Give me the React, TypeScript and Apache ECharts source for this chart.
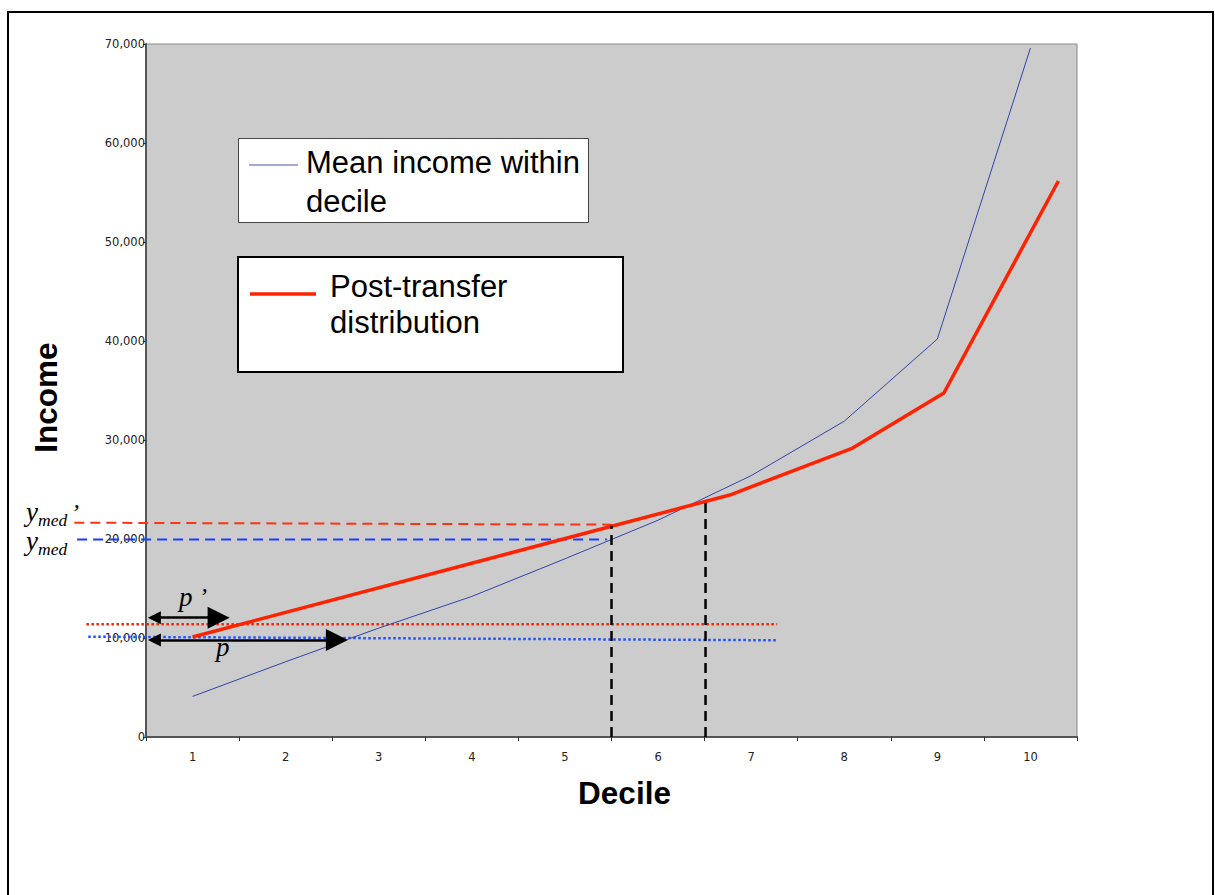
import React, { useEffect, useRef } from "react";
import * as echarts from "echarts";

// Categories (deciles)
const deciles = ["1", "2", "3", "4", "5", "6", "7", "8", "9", "10"];
// Mean income within decile (blue line), at decile centres
const meanIncome = [4100, 7600, 11000, 14200, 18000, 21900, 26400, 31900, 40200, 69600];
// Post-transfer distribution (red line): x positions (decile scale) and values
const postX = [1.0, 6.77, 8.09, 9.07, 10.3];
const postIncome = [10100, 24440, 29190, 34750, 56160];
// Reference lines (x on decile scale, y income)
const yMedPrime = [21650, 21450]; // red dashed (left, right)
const yMedPrimeX = [-0.27, 5.5];
const yMed = [19950, 19950]; // blue dashed
const yMedX = [-0.24, 5.45];
const povPrime = [11400, 11400]; // red dotted
const povPrimeX = [-0.14, 7.28];
const pov = [10130, 9770]; // blue dotted
const povX = [-0.12, 7.28];
// Vertical dashed guides: x position and top value
const guideX = [5.5, 6.51];
const guideTop = [21350, 23700];
// Arrows p' and p (centres of arrow heads): [from x, to x, y]
const arrowPPrime = [0.59, 1.28, 12050];
const arrowP = [0.59, 2.55, 9800];
// Y ticks
const yMin = 0;
const yMax = 70000;
const yStep = 10000;

export default function App() {
  const ref = useRef<HTMLDivElement>(null);

  useEffect(() => {
    document.body.style.margin = "0";
    if (!ref.current) return;
    const chart = echarts.init(ref.current, null, { renderer: "svg" });

    const pair = (xs: number[], ys: number[]) => xs.map((x, i) => [x, ys[i]]);
    const sans = "Liberation Sans, Arial, sans-serif";
    const serif = "Liberation Serif, Times New Roman, serif";
    const tickFont = "DejaVu Sans, Verdana, sans-serif";

    const option: any = {
      animation: false,
      backgroundColor: "#ffffff",
      grid: {
        left: 146,
        top: 44,
        right: 138,
        bottom: 158,
        show: true,
        backgroundColor: "#cccccc",
        borderColor: "#888888",
        borderWidth: 1,
      },
      xAxis: [
        {
          type: "category",
          data: deciles,
          boundaryGap: true,
          name: "Decile",
          nameLocation: "middle",
          nameGap: 40,
          nameTextStyle: {
            fontFamily: sans,
            fontSize: 31.5,
            fontWeight: "bold",
            color: "#000",
            padding: [0, 0, 0, 26],
          },
          axisLine: { lineStyle: { color: "#555555", width: 2 } },
          axisTick: { show: true, length: 4, lineStyle: { color: "#333" } },
          axisLabel: { fontFamily: tickFont, fontSize: 11.5, color: "#222", margin: 14 },
          splitLine: { show: false },
        },
        {
          type: "value",
          min: 0.5,
          max: 10.5,
          show: false,
          splitLine: { show: false },
        },
      ],
      yAxis: {
        type: "value",
        min: yMin,
        max: yMax,
        interval: yStep,
        name: "Income",
        nameLocation: "middle",
        nameGap: 84,
        nameTextStyle: {
          fontFamily: sans,
          fontSize: 31.5,
          fontWeight: "bold",
          color: "#000",
          padding: [0, 14, 0, 0],
        },
        axisLine: { show: true, lineStyle: { color: "#555555", width: 2 } },
        axisTick: { show: true, length: 3, lineStyle: { color: "#333" } },
        axisLabel: {
          fontFamily: tickFont,
          fontSize: 11.5,
          color: "#222",
          margin: 1,
          formatter: (v: number) => v.toLocaleString("en-US"),
        },
        splitLine: { show: false },
      },
      series: [
        {
          type: "line",
          name: "Mean income within decile",
          xAxisIndex: 1,
          data: meanIncome.map((v, i) => [i + 1, v]),
          symbol: "none",
          lineStyle: { color: "#3344aa", width: 1 },
          z: 3,
        },
        {
          type: "line",
          name: "Post-transfer distribution",
          xAxisIndex: 1,
          data: pair(postX, postIncome),
          symbol: "none",
          lineStyle: { color: "#ff2200", width: 3.5 },
          z: 4,
        },
        ...guideX.map((gx, i) => ({
          type: "line",
          xAxisIndex: 1,
          data: [
            [gx, 0],
            [gx, guideTop[i]],
          ],
          symbol: "none",
          lineStyle: { color: "#000000", width: 2.5, type: [10, 6] },
          z: 5,
        })),
        {
          type: "lines",
          coordinateSystem: "cartesian2d",
          xAxisIndex: 1,
          symbol: ["triangle", "triangle"],
          symbolSize: [13, 22],
          lineStyle: { color: "#000000", width: 2.5, opacity: 1, curveness: 0 },
          itemStyle: { color: "#000" },
          data: [
            { coords: [[arrowPPrime[0], arrowPPrime[2]], [arrowPPrime[1], arrowPPrime[2]]] },
            { coords: [[arrowP[0], arrowP[2]], [arrowP[1], arrowP[2]]] },
          ],
          z: 6,
        },
      ],
    };

    chart.setOption(option);

    const toPx = (x: number, y: number) =>
      chart.convertToPixel({ xAxisIndex: 1, yAxisIndex: 0 } as any, [x, y]) as number[];
    const refLine = (xs: number[], ys: number[], color: string, width: number, dash: number[]) => {
      const a = toPx(xs[0], ys[0]);
      const b = toPx(xs[1], ys[1]);
      return {
        type: "line",
        silent: true,
        shape: { x1: a[0], y1: a[1], x2: b[0], y2: b[1] },
        style: { stroke: color, lineWidth: width, lineDash: dash },
        z: 1,
      };
    };

    const graphic: any[] = [
      {
        type: "rect",
        silent: true,
        shape: { x: 8, y: 12, width: 1205, height: 900 },
        style: { fill: "none", stroke: "#000", lineWidth: 2 },
        z: 100,
      },
      refLine(yMedPrimeX, yMedPrime, "#ff3311", 2, [10, 6]),
      refLine(yMedX, yMed, "#1a3cff", 2, [10, 6]),
      refLine(povPrimeX, povPrime, "#ff2200", 2.5, [2.5, 2.5]),
      refLine(povX, pov, "#1f4fff", 2.5, [2.5, 2.5]),
      // legend box 1
      {
        type: "rect",
        shape: { x: 238.5, y: 138.5, width: 350, height: 84 },
        style: { fill: "#ffffff", stroke: "#444444", lineWidth: 1 },
        z: 50,
      },
      {
        type: "line",
        shape: { x1: 249, y1: 165, x2: 298, y2: 165 },
        style: { stroke: "#4455aa", lineWidth: 1 },
        z: 51,
      },
      {
        type: "text",
        x: 306,
        y: 143,
        style: {
          text: "Mean income within\ndecile",
          fontFamily: sans,
          fontSize: 31,
          lineHeight: 39,
          fill: "#000",
          verticalAlign: "top",
        },
        z: 51,
      },
      // legend box 2
      {
        type: "rect",
        shape: { x: 238, y: 257, width: 385, height: 115 },
        style: { fill: "#ffffff", stroke: "#000000", lineWidth: 2 },
        z: 50,
      },
      {
        type: "line",
        shape: { x1: 250, y1: 294, x2: 316, y2: 294 },
        style: { stroke: "#ff2200", lineWidth: 3.5 },
        z: 51,
      },
      {
        type: "text",
        x: 330,
        y: 268,
        style: {
          text: "Post-transfer\ndistribution",
          fontFamily: sans,
          fontSize: 31,
          lineHeight: 36,
          fill: "#000",
          verticalAlign: "top",
        },
        z: 51,
      },
      // y_med' label
      {
        type: "text",
        x: 26,
        y: 512,
        style: { text: "y", fontFamily: serif, fontStyle: "italic", fontSize: 27, fill: "#000", verticalAlign: "middle" },
        z: 60,
      },
      {
        type: "text",
        x: 38,
        y: 520,
        style: { text: "med", fontFamily: serif, fontStyle: "italic", fontSize: 17.5, fill: "#000", verticalAlign: "middle" },
        z: 60,
      },
      {
        type: "text",
        x: 71,
        y: 512,
        style: { text: "’", fontFamily: serif, fontStyle: "italic", fontSize: 24, fill: "#000", verticalAlign: "middle" },
        z: 60,
      },
      // y_med label
      {
        type: "text",
        x: 26,
        y: 541,
        style: { text: "y", fontFamily: serif, fontStyle: "italic", fontSize: 27, fill: "#000", verticalAlign: "middle" },
        z: 60,
      },
      {
        type: "text",
        x: 38,
        y: 549,
        style: { text: "med", fontFamily: serif, fontStyle: "italic", fontSize: 17.5, fill: "#000", verticalAlign: "middle" },
        z: 60,
      },
      // p' label
      {
        type: "text",
        x: 179,
        y: 597,
        style: { text: "p", fontFamily: serif, fontStyle: "italic", fontSize: 27, fill: "#000", verticalAlign: "middle" },
        z: 60,
      },
      {
        type: "text",
        x: 199,
        y: 596,
        style: { text: "’", fontFamily: serif, fontStyle: "italic", fontSize: 24, fill: "#000", verticalAlign: "middle" },
        z: 60,
      },
      // p label
      {
        type: "text",
        x: 216,
        y: 647,
        style: { text: "p", fontFamily: serif, fontStyle: "italic", fontSize: 27, fill: "#000", verticalAlign: "middle" },
        z: 60,
      },
    ];

    chart.setOption({ graphic });
    return () => chart.dispose();
  }, []);

  return <div ref={ref} style={{ width: 1215, height: 895 }} />;
}
